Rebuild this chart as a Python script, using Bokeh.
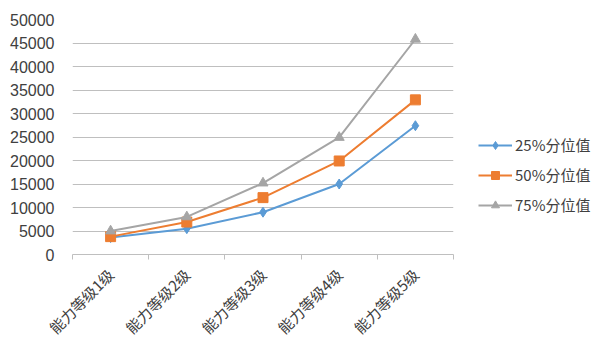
import math
from bokeh.plotting import figure
from bokeh.models import FixedTicker, Legend, LegendItem, ColumnDataSource
from bokeh.embed import file_html
from bokeh.resources import INLINE

categories = ["能力等级1级", "能力等级2级", "能力等级3级", "能力等级4级", "能力等级5级"]
p25 = [3600, 5500, 9000, 15000, 27400]
p50 = [3800, 6900, 12100, 19900, 32900]
p75 = [5000, 8000, 15200, 24900, 45800]
series_names = ["25%分位值", "50%分位值", "75%分位值"]
y_ticks = [0, 5000, 10000, 15000, 20000, 25000, 30000, 35000, 40000, 45000, 50000]

xs = list(range(1, len(categories) + 1))

p = figure(frame_width=381, frame_height=235, output_backend="svg", toolbar_location=None,
           x_range=(0.5, len(categories) + 0.5), y_range=(0, 50000),
           min_border_left=72, min_border_top=19, min_border_bottom=90, min_border_right=0)
p.outline_line_color = None
p.background_fill_color = "white"

# x axis
p.xaxis.ticker = FixedTicker(ticks=xs, minor_ticks=[x - 0.5 for x in xs] + [xs[-1] + 0.5])
p.xaxis.major_label_overrides = {x: c for x, c in zip(xs, categories)}
p.xaxis.major_label_orientation = math.pi / 4
p.xaxis.major_tick_out = 0
p.xaxis.major_tick_in = 0
p.xaxis.minor_tick_out = 5
p.xaxis.minor_tick_in = 0
p.xaxis.minor_tick_line_color = "#bfbfbf"
p.xaxis.axis_line_color = "#bfbfbf"
p.xaxis.major_label_text_font = "Noto Sans CJK SC"
p.xaxis.major_label_text_font_size = "15px"
p.xaxis.major_label_text_color = "#404040"
p.xaxis.major_label_standoff = 12
p.xgrid.grid_line_color = None

# y axis
p.yaxis.ticker = FixedTicker(ticks=y_ticks)
p.yaxis.axis_line_color = None
p.yaxis.major_tick_line_color = None
p.yaxis.minor_tick_line_color = None
p.yaxis.major_label_text_font = "Liberation Sans"
p.yaxis.major_label_text_font_size = "16px"
p.yaxis.major_label_text_color = "#404040"
p.yaxis.major_label_standoff = 12
p.ygrid.grid_line_color = "#bfbfbf"
p.ygrid.grid_line_width = 1

colors = ["#5B9BD5", "#ED7D31", "#A5A5A5"]
markers = ["diamond", "square", "triangle"]
sizes = [10, 10, 10]
items = []
for name, vals, c, m, s in zip(series_names, [p25, p50, p75], colors, markers, sizes):
    src = ColumnDataSource(dict(x=xs, y=vals))
    r1 = p.line("x", "y", source=src, line_color=c, line_width=2)
    r2 = p.scatter("x", "y", source=src, marker=m, size=s, fill_color=c, line_color=c)
    items.append(LegendItem(label=name, renderers=[r1, r2]))

legend = Legend(items=items, location=(25, 39))
legend.border_line_color = None
legend.background_fill_alpha = 0
legend.label_text_font = "Noto Sans CJK SC"
legend.label_text_font_size = "15px"
legend.label_text_color = "#404040"
legend.glyph_width = 34
legend.glyph_height = 20
legend.label_height = 20
legend.spacing = 9
legend.padding = 0
legend.margin = 0
legend.label_standoff = 3
p.add_layout(legend, "right")

open("out.html", "w").write(file_html(p, INLINE))
